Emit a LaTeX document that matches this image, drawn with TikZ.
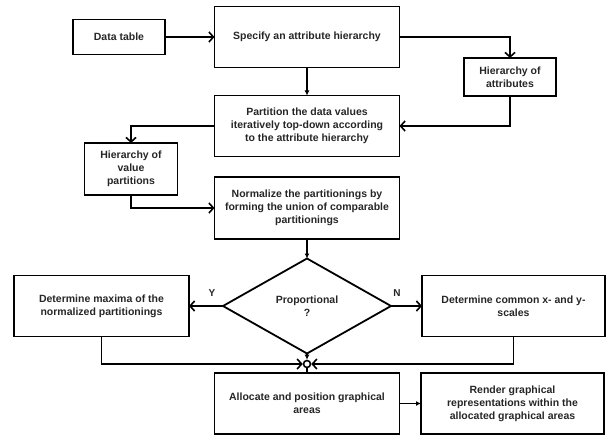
\documentclass[tikz,border=0pt]{standalone}
\usepackage{fontspec}
\setmainfont{Liberation Sans}
\usetikzlibrary{arrows.meta,shapes.geometric}
\begin{document}
\begin{tikzpicture}[x=1pt,y=-1pt,
  box/.style={draw, line width=1.8pt, align=center, inner sep=0pt, outer sep=0pt,
    font=\bfseries\fontsize{10.5}{13}\selectfont, text=black!85},
  conn/.style={line width=1.6pt},
  openarr/.style={conn, -{Straight Barb[length=4.5pt,width=10pt]}},
  smallarr/.style={conn, -{Latex[length=5pt,width=5pt]}},
  lbl/.style={font=\bfseries\fontsize{10}{12}\selectfont, text=black!85}
]
\useasboundingbox (0,0) rectangle (608,436);
\node[box, minimum width=92pt, minimum height=35pt] (data) at (119,37) {Data table};
\node[box, minimum width=185pt, minimum height=61pt] (spec) at (307,37) {Specify an attribute hierarchy};
\node[box, minimum width=92pt, minimum height=38pt] (hattr) at (510,77) {Hierarchy of\\attributes};
\node[box, minimum width=185pt, minimum height=61pt] (part) at (307,126) {Partition the data values\\iteratively top-down according\\to the attribute hierarchy};
\node[box, minimum width=93pt, minimum height=52pt] (hval) at (131,169) {Hierarchy of\\value\\partitions};
\node[box, minimum width=185pt, minimum height=62pt] (norm) at (307,208) {Normalize the partitionings by\\forming the union of comparable\\partitionings};
\node[box, diamond, minimum width=168pt, minimum height=95pt] (dia) at (307,306) {Proportional\\?};
\node[box, minimum width=175pt, minimum height=61pt] (maxima) at (101.5,306) {Determine maxima of the\\normalized partitionings};
\node[box, minimum width=183pt, minimum height=61pt] (common) at (513.5,306) {Determine common x- and y-\\scales};
\node[draw, circle, line width=1.6pt, minimum size=7pt, inner sep=0pt] (jn) at (307,364) {};
\node[box, minimum width=185pt, minimum height=61pt] (alloc) at (307,403.5) {Allocate and position graphical\\areas};
\node[box, minimum width=183pt, minimum height=61pt] (render) at (512.5,403.5) {Render graphical\\representations within the\\allocated graphical areas};
\node[lbl] (ylab) at (212,293) {Y};
\node[lbl] (nlab) at (397,293) {N};

\draw[openarr] (data) -- (spec);
\draw[openarr] (spec.east) -| (hattr.north);
\draw[smallarr] (spec.south) -- (part.north);
\draw[openarr] (hattr.south) |- (part.east);
\draw[openarr] (part.west) -| (hval.north);
\draw[openarr] (hval.south) |- (norm.west);
\draw[smallarr] (norm.south) -- (dia.north);
\draw[openarr] (dia.west) -- (maxima.east);
\draw[openarr] (dia.east) -- (common.west);
\draw[smallarr] (dia.south) -- (jn.north);
\draw[openarr] (maxima.south) |- (jn.west);
\draw[openarr] (common.south) |- (jn.east);
\draw[conn] (jn.south) -- (alloc.north);
\draw[smallarr] (alloc.east) -- (render.west);
\end{tikzpicture}
\end{document}
